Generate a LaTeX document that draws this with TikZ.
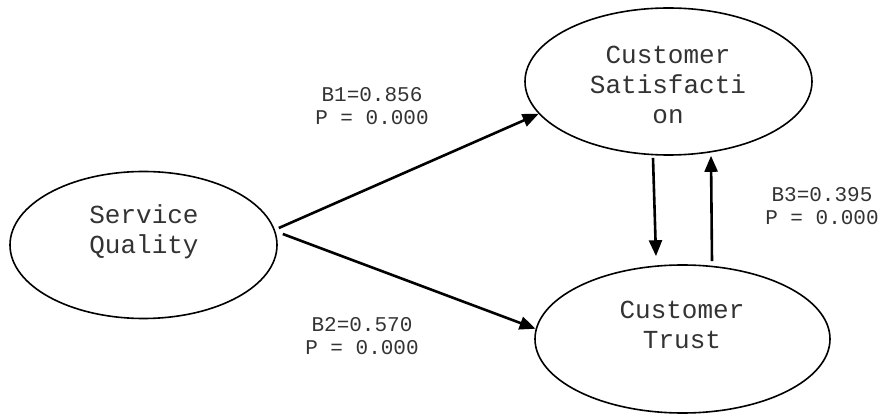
\documentclass[tikz,border=0pt]{standalone}
\usepackage{fontspec}
\setmonofont{Liberation Mono}
\usetikzlibrary{shapes.geometric, arrows.meta, positioning}

\begin{document}
\begin{tikzpicture}[x=1pt, y=-1pt,
    construct/.style={draw, ellipse, line width=1.6pt, inner sep=0pt},
    varname/.style={font=\ttfamily\fontsize{26}{30}\selectfont, text=black!80, align=center, inner sep=0pt},
    coef/.style={font=\ttfamily\fontsize{21}{22.5}\selectfont, text=black!80, align=center, inner sep=0pt},
    path/.style={-{Triangle[length=16pt, width=13pt]}, line width=2.6pt}
]
    \useasboundingbox (0,0) rectangle (879,414);

    % Latent variables
    \node[construct, minimum width=267pt, minimum height=147pt] (sq) at (143.5,245) {};
    \node[construct, minimum width=287pt, minimum height=147pt] (cs) at (668.5,81.5) {};
    \node[construct, minimum width=295pt, minimum height=148pt] (ct) at (682.5,339) {};

    \node[varname] (sqtext) at (144,232) {Service\\Quality};
    \node[varname] (cstext) at (668,85) {Customer\\Satisfacti\\on};
    \node[varname] (cttext) at (682,325) {Customer\\Trust};

    % Paths
    \draw[path] ([xshift=1pt, yshift=17pt]sq.east) -- (cs.194);
    \draw[path] ([xshift=5pt, yshift=11pt]sq.east) -- (ct.176);
    \draw[path] ([xshift=-15.5pt, yshift=-2pt]cs.south) -- ([xshift=-26.5pt, yshift=8pt]ct.north);
    \draw[path] ([xshift=29.5pt, yshift=3pt]ct.north) -- ([xshift=42.5pt]cs.south);

    % Coefficients
    \node[coef] (b1) at (372,106) {B1=0.856\\P = 0.000};
    \node[coef] (b2) at (362,336) {B2=0.570\\P = 0.000};
    \node[coef] (b3) at (822,206) {B3=0.395\\P = 0.000};
\end{tikzpicture}
\end{document}
